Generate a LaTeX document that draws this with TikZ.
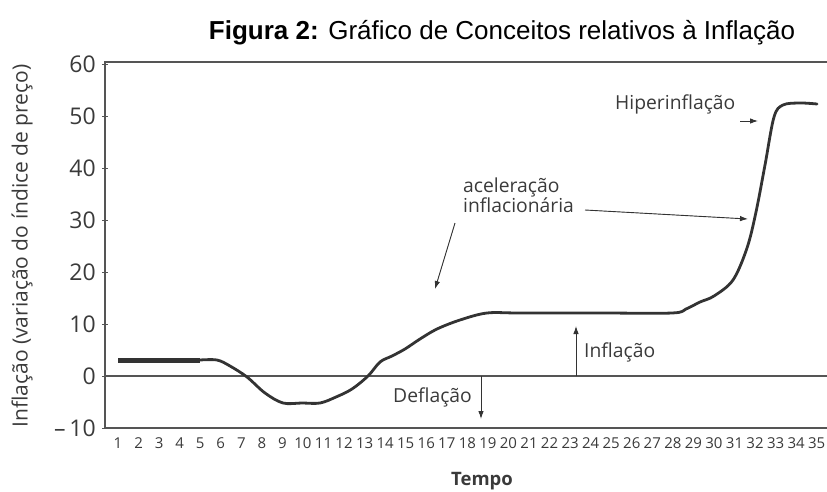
\documentclass[tikz,border=0pt]{standalone}
\usepackage{fontspec}
\setmainfont{Open Sans}
\newfontfamily\titlefont{Liberation Sans}
\usetikzlibrary{arrows.meta}
\definecolor{ink}{HTML}{333333}
\definecolor{txt}{HTML}{3A3A3A}
\definecolor{axisgray}{HTML}{555555}
\tikzset{
  axisline/.style={draw=axisgray, line width=1.3pt},
  tickline/.style={draw=axisgray, line width=1pt},
  curve/.style={draw=ink, line width=2.8pt, line cap=round, line join=round},
  thickseg/.style={draw=ink, line width=5pt},
  note/.style={-{Latex[length=8pt,width=5.5pt]}, draw=ink, line width=0.9pt, fill=ink},
  ylab/.style={anchor=east, font=\fontsize{23}{23}\selectfont, text=txt, inner sep=0pt},
  xlab/.style={anchor=center, font=\fontsize{15}{15}\selectfont, text=txt, inner sep=0pt},
  annot/.style={font=\fontsize{19.3}{20}\selectfont, text=txt, inner sep=0pt, align=left},
}
\begin{document}
\begin{tikzpicture}[x=1pt, y=-1pt]
\useasboundingbox (0,0) rectangle (827,491);
% title
\node[anchor=center, inner sep=0pt, font=\titlefont\fontsize{26}{27}\selectfont] (title) at (502,33) {\textbf{Figura 2:} Gráfico de Conceitos relativos à Inflação};
% frame
\coordinate (tl) at (105,62);
\coordinate (tr) at (827,62);
\coordinate (bl) at (105,428);
\coordinate (br) at (827,428);
\coordinate (zl) at (105,376);
\coordinate (zr) at (827,376);
\draw[axisline] (tr) -- (tl) -- (bl) -- (br);
\draw[draw=axisgray, line width=1.1pt] (zl) -- (zr);
% y ticks and labels
\foreach \v/\t in {60/60,50/50,40/40,30/30,20/20,10/10,0/0,-10/{–\,10}} {
  \draw[tickline] (102,376-5.2*\v) -- (108,376-5.2*\v);
  \node[ylab] (y\v) at (96,376-5.2*\v) {\t};
}
% y title
\node[rotate=90, inner sep=0pt, font=\fontsize{21}{21}\selectfont, text=txt] (ytitle) at (22,246) {Inflação (variação do índice de preço)};
% x labels
\foreach \n in {1,...,35} {
  \node[xlab] (x\n) at ({118+(\n-1)*20.55},443) {\n};
}
\node[inner sep=0pt, font=\bfseries\fontsize{18.5}{18.5}\selectfont, text=txt] (tempo) at (482,481) {Tempo};
% curve
\draw[thickseg] (118,360) -- (200,360);
\draw[curve] plot[smooth, tension=0.55] coordinates {
 (200,360) (217,360) (230,366) (247,377) (265,393) (283,403) (302,403) (320,403)
 (336,397) (352,389) (368,376) (380,362) (392,356) (405,349) (420,339) (437,329)
 (460,320) (487,313) (520,313) (600,313) (672,313) (686,309) (700,302) (714,296)
 (733,280) (747,248) (756,212) (765,165) (774,117) (783,105) (800,103) (817,104)};
% annotations
\node[annot, anchor=west] (hiper) at (615,104) {Hiperinflação};
\coordinate (hiperA) at (740,121);
\coordinate (hiperB) at (758,121);
\draw[note] (hiperA) -- (hiperB);

\node[annot, anchor=north west] (acel) at (463,178) {aceleração\\inflacionária};
\coordinate (acelA) at (585,210);
\coordinate (acelB) at (748,219);
\draw[note] (acelA) -- (acelB);
\coordinate (acelC) at (455,223);
\coordinate (acelD) at (435,289);
\draw[note] (acelC) -- (acelD);

\node[annot, anchor=west] (infl) at (584,352) {Inflação};
\coordinate (inflA) at (576,376);
\coordinate (inflB) at (576,326);
\draw[note] (inflA) -- (inflB);

\node[annot, anchor=west] (defl) at (393,397) {Deflação};
\coordinate (deflA) at (481,376);
\coordinate (deflB) at (481,419);
\draw[note] (deflA) -- (deflB);
\end{tikzpicture}
\end{document}
